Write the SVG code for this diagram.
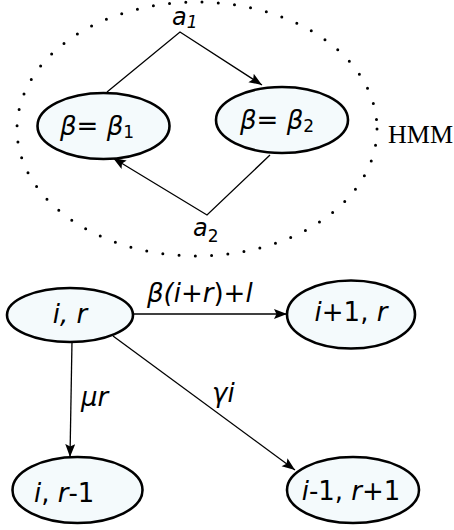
<svg xmlns="http://www.w3.org/2000/svg" width="454" height="530" viewBox="0 0 454 530">
<defs>
<style>
.node{fill:#f4fafc;stroke:#000;stroke-width:2.6}
.edge{fill:none;stroke:#000;stroke-width:1.3}
.t{font-family:"DejaVu Sans",sans-serif;font-size:26px;fill:#000}
.it{font-style:italic}
.sub{font-size:17px}
.hmm{font-family:"Liberation Serif",serif;font-size:26px;fill:#000}
</style>
<marker id="ah" markerUnits="userSpaceOnUse" markerWidth="15" markerHeight="11" refX="13" refY="5" orient="auto">
<path d="M0,0 L13,5 L0,10 L2.5,5 z" fill="#000"/>
</marker>
</defs>
<rect width="454" height="530" fill="#fff"/>
<g id="hmm-boundary">
<ellipse cx="197" cy="129" rx="180" ry="127" fill="none" stroke="#000" stroke-width="3" stroke-linecap="round" stroke-dasharray="0 16.3"/>
<text class="hmm" x="388" y="143">HMM</text>
</g>
<g id="connectors">
<path class="edge" d="M107,92 L180,32 L262,85" marker-end="url(#ah)"/>
<path class="edge" d="M270,155 L207,215 L113,158" marker-end="url(#ah)"/>
<path class="edge" d="M133,314 L287,314" marker-end="url(#ah)"/>
<path class="edge" d="M72,341 L70,457" marker-end="url(#ah)"/>
<path class="edge" d="M113,336 L295,470" marker-end="url(#ah)"/>
<text class="t" x="172" y="25"><tspan class="it" font-size="24">a</tspan><tspan class="it sub" dy="3">1</tspan></text>
<text class="t" x="193" y="236"><tspan class="it" font-size="24">a</tspan><tspan class="sub" dy="6">2</tspan></text>
<text class="t" x="147" y="302"><tspan class="it">β(i</tspan>+<tspan class="it">r</tspan>)+<tspan class="it">l</tspan></text>
<text class="t it" x="81" y="406">μr</text>
<text class="t it" x="212" y="402">γi</text>
</g>
<g id="node-beta1">
<ellipse class="node" cx="103.5" cy="126" rx="66" ry="33"/>
<text class="t" x="60" y="135"><tspan class="it">β</tspan>= <tspan class="it">β</tspan><tspan class="sub" dy="3">1</tspan></text>
</g>
<g id="node-beta2">
<ellipse class="node" cx="282" cy="120" rx="66" ry="33"/>
<text class="t" x="240" y="129"><tspan class="it">β</tspan>= <tspan class="it">β</tspan><tspan class="sub" dy="3">2</tspan></text>
</g>
<g id="node-ir">
<ellipse class="node" cx="70" cy="315" rx="63" ry="27"/>
<text class="t it" x="70" y="323" text-anchor="middle">i, r</text>
</g>
<g id="node-i1r">
<ellipse class="node" cx="351" cy="314.5" rx="64" ry="34"/>
<text class="t" x="351" y="321" text-anchor="middle"><tspan class="it">i</tspan>+1, <tspan class="it">r</tspan></text>
</g>
<g id="node-ir-1">
<ellipse class="node" cx="77.5" cy="490" rx="65" ry="33"/>
<text class="t" x="34" y="502"><tspan class="it">i</tspan>, <tspan class="it">r</tspan>-1</text>
</g>
<g id="node-i-1r1">
<ellipse class="node" cx="353" cy="490" rx="66" ry="33"/>
<text class="t" x="351" y="500" text-anchor="middle"><tspan class="it">i</tspan>-1, <tspan class="it">r</tspan>+1</text>
</g>
</svg>
